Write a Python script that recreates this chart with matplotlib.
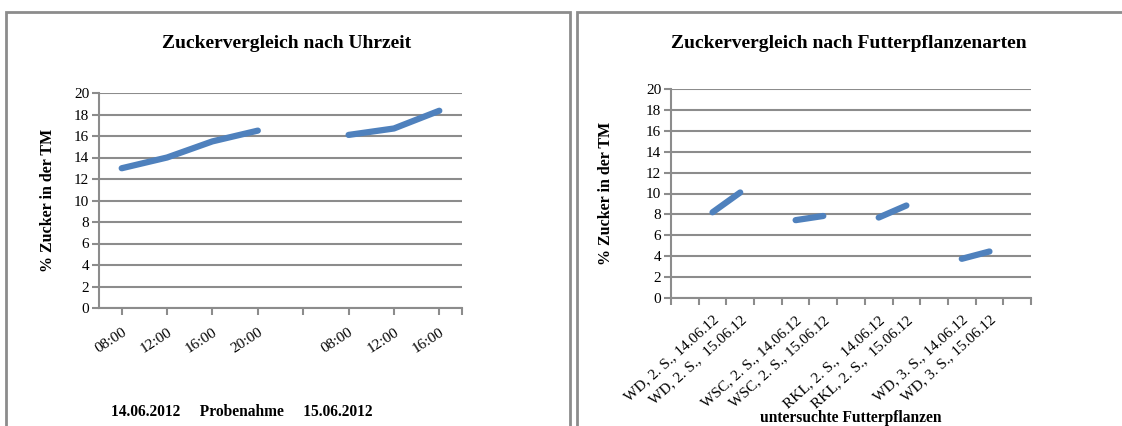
import numpy as np
import matplotlib.pyplot as plt
from matplotlib.patches import Rectangle

plt.rcParams['font.family'] = ['Liberation Serif', 'DejaVu Serif']

# Zucker nach Uhrzeit (Probenahme 14.06. und 15.06.2012)
zeit_labels = ['08:00', '12:00', '16:00', '20:00', '', '08:00', '12:00', '16:00']
zucker_tag1 = [13.0, 14.0, 15.5, 16.5]
zucker_tag2 = [16.1, 16.7, 18.35]

# Zucker nach Futterpflanzenarten
pflanzen_labels = ['', 'WD, 2. S., 14.06.12', 'WD, 2. S.,  15.06.12', '',
                   'WSC, 2. S., 14.06.12', 'WSC, 2. S., 15.06.12', '',
                   'RKL, 2. S.,  14.06.12', 'RKL, 2. S.,  15.06.12', '',
                   'WD, 3. S., 14.06.12', 'WD, 3. S., 15.06.12', '']
pflanzen_paare = [(1, [8.2, 10.1]), (4, [7.45, 7.85]),
                  (7, [7.7, 8.85]), (10, [3.75, 4.45])]

blau = '#4F81BD'
grau = '#8C8C8C'
W, H = 1122, 426

fig = plt.figure(figsize=(W / 100, H / 100), dpi=100)

# Rahmen der beiden Diagramme
for x0, x1 in [(6, 569.5), (577.5, 1130)]:
    fig.patches.append(Rectangle((x0 / W, -0.1), (x1 - x0) / W, (H - 12) / H + 0.1,
                                 transform=fig.transFigure, fill=False,
                                 edgecolor=grau, linewidth=2))


def style_axes(ax, pad):
    ax.set_ylim(0, 20)
    ax.set_yticks(np.arange(0, 21, 2))
    ax.grid(axis='y', color=grau, linewidth=1.5)
    ax.set_axisbelow(True)
    for s in ['top', 'right']:
        ax.spines[s].set_visible(False)
    for s in ['left', 'bottom']:
        ax.spines[s].set_color(grau)
        ax.spines[s].set_linewidth(1.5)
    ax.tick_params(axis='y', length=5, color=grau, width=1.5, labelsize=11, pad=2)
    ax.tick_params(axis='x', which='both', color=grau, width=1.5)
    ax.set_ylabel('% Zucker in der TM', fontsize=11.5, fontweight='bold', labelpad=pad)


# linkes Diagramm
ax1 = fig.add_axes([99 / W, 1 - 308 / H, 363 / W, 215 / H])
style_axes(ax1, 13)
ax1.set_xlim(-0.5, 7.5)
ax1.set_xticks(range(len(zeit_labels)))
ax1.set_xticklabels(zeit_labels, rotation=33, ha='right', rotation_mode='anchor',
                    fontsize=11)
ax1.set_xticks([7.5], minor=True)
ax1.tick_params(axis='x', which='both', length=5, pad=8)
ax1.plot(range(0, 4), zucker_tag1, color=blau, linewidth=4.5, solid_capstyle='round')
ax1.plot(range(5, 8), zucker_tag2, color=blau, linewidth=4.5, solid_capstyle='round')
fig.text(287 / W, 1 - 43 / H, 'Zuckervergleich nach Uhrzeit',
         ha='center', va='center', fontsize=14, fontweight='bold')
fig.text(242 / W, 1 - 412 / H, '14.06.2012     Probenahme     15.06.2012',
         ha='center', va='center', fontsize=11.2, fontweight='bold')

# rechtes Diagramm
ax2 = fig.add_axes([671 / W, 1 - 298 / H, 360 / W, 209 / H])
style_axes(ax2, 23)
ax2.set_xlim(-0.5, 12.5)
ax2.set_xticks(range(len(pflanzen_labels)))
ax2.set_xticklabels(pflanzen_labels, rotation=42, ha='right', rotation_mode='anchor',
                    fontsize=11)
ax2.set_xticks(np.arange(-0.5, 13, 1), minor=True)
ax2.tick_params(axis='x', which='major', length=0, pad=11)
ax2.tick_params(axis='x', which='minor', length=5)
for start, werte in pflanzen_paare:
    ax2.plot([start, start + 1], werte, color=blau, linewidth=4.5, solid_capstyle='round')
fig.text(849 / W, 1 - 43 / H, 'Zuckervergleich nach Futterpflanzenarten',
         ha='center', va='center', fontsize=14, fontweight='bold')
fig.text(851 / W, 1 - 418 / H, 'untersuchte Futterpflanzen',
         ha='center', va='center', fontsize=11.2, fontweight='bold')

fig.savefig('out.png', dpi=100)
